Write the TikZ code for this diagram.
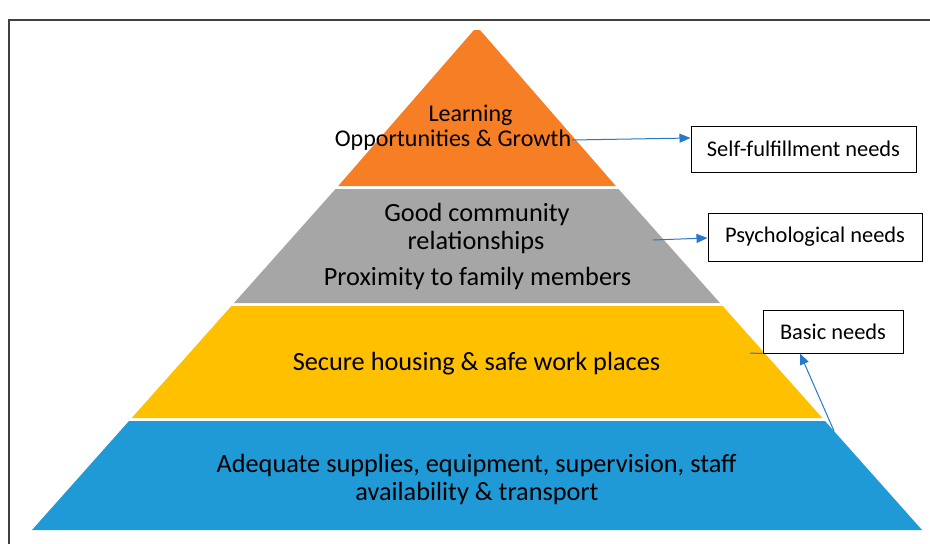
\documentclass[tikz,border=0pt]{standalone}
\usepackage{fontspec}
\setmainfont{Carlito}
\usetikzlibrary{arrows.meta}
\definecolor{lorange}{HTML}{F67E24}
\definecolor{lgray}{HTML}{A6A6A6}
\definecolor{lyellow}{HTML}{FFC000}
\definecolor{lblue}{HTML}{1F9AD6}
\definecolor{arrowblue}{HTML}{2878C8}
\definecolor{frame}{HTML}{404040}
\tikzset{
  layertext/.style={font=\fontsize{26.3}{30}\selectfont, anchor=base, inner sep=0pt},
  toptext/.style={font=\fontsize{24}{28}\selectfont, anchor=base, inner sep=0pt},
  needbox/.style={draw=black, line width=1pt, fill=white, font=\fontsize{22.4}{26}\selectfont, inner sep=0pt},
  needarrow/.style={draw=arrowblue, line width=1pt, -{Triangle[length=11pt,width=9pt]}},
  needline/.style={draw=arrowblue, line width=1pt},
}
\begin{document}
\begin{tikzpicture}[x=1pt,y=-1pt]
\useasboundingbox (0,0) rectangle (930,544);
% frame
\draw[frame, line width=1.5pt] (9,544) -- (9,20) -- (930,20);
% layers
\fill[lorange] (474,30) -- (480,30) -- (615.8,186) -- (338.2,186) -- cycle;
\fill[lgray] (335.5,189) -- (618.5,189) -- (720,303) -- (234,303) -- cycle;
\fill[lyellow] (231.4,306) -- (722.6,306) -- (822.3,418) -- (131.7,418) -- cycle;
\fill[lblue] (129,421) -- (825,421) -- (922,530) -- (32,530) -- cycle;
% layer texts
\node[toptext] (l1a) at (470.5,121.5) {Learning};
\node[toptext] (l1b) at (453,146.5) {Opportunities \& Growth};
\node[layertext] (l2a) at (477,221) {Good community};
\node[layertext] (l2b) at (476,249) {relationships};
\node[layertext] (l2c) at (477.5,285) {Proximity to family members};
\node[layertext] (l3) at (476.5,370) {Secure housing \& safe work places};
\node[layertext] (l4a) at (476.6,472) {Adequate supplies, equipment, supervision, staff};
\node[layertext] (l4b) at (477,500) {availability \& transport};
% boxes
\node[needbox, minimum width=225pt, minimum height=46pt] (b1) at (803.5,149) {Self-fulfillment needs};
\node[needbox, minimum width=214pt, minimum height=48pt] (b2) at (815,237) {Psychological needs};
\node[needbox, minimum width=140pt, minimum height=43pt] (b3) at (833,331.5) {Basic needs};
% connectors
\coordinate (c1) at (572,140);
\coordinate (c2) at (653,240);
\coordinate (c3) at (834,431);
\coordinate (c4) at (750,353);
\draw[needarrow] (c1) -- ([yshift=11pt]b1.west);
\draw[needarrow] (c2) -- ([yshift=-1pt]b2.west);
\draw[needarrow] (c3) -- ([xshift=-33pt]b3.south);
\draw[needline] (c4) -- (b3.south west);
\end{tikzpicture}
\end{document}
